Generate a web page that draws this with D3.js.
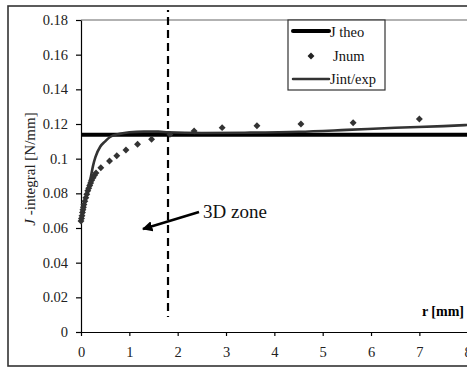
<!DOCTYPE html>
<html><head><meta charset="utf-8">
<script src="https://cdn.jsdelivr.net/npm/d3@7"></script>
<style>body{margin:0;background:#fff}svg{display:block}</style>
</head><body>
<script>
const xTicks = [0,1,2,3,4,5,6,7,8];
const yTicks = [0,0.02,0.04,0.06,0.08,0.1,0.12,0.14,0.16,0.18];
const jTheo = 0.1138;
const jnumX = [0,0.01,0.02,0.03,0.04,0.05,0.06,0.08,0.10,0.12,0.14,0.16,0.18,0.20,0.22,0.25,0.28,0.31,0.41,0.59,0.74,0.93,1.17,1.46,1.84,2.34,2.92,3.64,4.55,5.63,7.0];
const jnumY = [0.0640,0.0655,0.0670,0.0690,0.0705,0.0720,0.0735,0.0755,0.0775,0.0795,0.0815,0.0830,0.0845,0.0860,0.0875,0.0890,0.0905,0.0918,0.0948,0.0987,0.1017,0.1050,0.1083,0.1112,0.1140,0.1160,0.1179,0.1190,0.1200,0.1207,0.1229];
const jintX = [0.03,0.06,0.1,0.15,0.2,0.25,0.3,0.4,0.5,0.6,0.8,1.0,1.3,1.6,1.8,2.5,3.5,4.5,5.5,6.5,7.5,8.0];
const jintY = [0.066,0.071,0.077,0.083,0.089,0.096,0.101,0.107,0.110,0.1125,0.1143,0.1152,0.1156,0.1156,0.1152,0.1148,0.1150,0.1155,0.1166,0.1178,0.1188,0.1194];
const zoneX = 1.8;
const legendLabels = ["J theo","Jnum","Jint/exp"];

const FONT='"Liberation Serif","Times New Roman",serif';
const W=467,H=369;
const svg=d3.select("body").append("svg").attr("width",W).attr("height",H);
const x=d3.scaleLinear([0,8],[81,467.7]);
const y=d3.scaleLinear([0,0.18],[332,20]);

svg.append("rect").attr("x",8).attr("y",6).attr("width",480).attr("height",360)
  .attr("fill","none").attr("stroke","#333").attr("stroke-width",1.6);
svg.append("line").attr("x1",x(0)).attr("x2",W).attr("y1",y(0.18)).attr("y2",y(0.18))
  .attr("stroke","#999").attr("stroke-width",1.5);

const yAxis=svg.append("g").attr("transform",`translate(${x(0)},0)`)
  .call(d3.axisLeft(y).tickValues(yTicks).tickFormat(d3.format("~g")).tickSize(5).tickSizeOuter(0));
const xAxis=svg.append("g").attr("transform",`translate(0,${y(0)})`)
  .call(d3.axisBottom(x).tickValues(xTicks).tickFormat(d3.format("d")).tickSize(4).tickSizeOuter(0));
[yAxis,xAxis].forEach(a=>{a.selectAll("path,line").attr("stroke","#000").attr("stroke-width",1.2);
  a.selectAll("text").style("font-family",FONT).style("font-size","14.5px").attr("fill","#222");});
yAxis.selectAll("text").attr("x",-13);
xAxis.selectAll("text").attr("y",14.5);

svg.append("line").attr("x1",x(zoneX)).attr("x2",x(zoneX)).attr("y1",10).attr("y2",317)
  .attr("stroke","#000").attr("stroke-width",2.2).attr("stroke-dasharray","8,5").attr("stroke-dashoffset",6);

svg.append("line").attr("x1",x(0)).attr("x2",W).attr("y1",y(jTheo)).attr("y2",y(jTheo))
  .attr("stroke","#000").attr("stroke-width",4);

const diamond=d3.symbol().type(d3.symbolSquare).size(24);
svg.append("g").selectAll("path").data(jnumX.map((v,i)=>[v,jnumY[i]])).join("path")
  .attr("d",diamond).attr("transform",d=>`translate(${x(d[0])},${y(d[1])}) rotate(45)`).attr("fill","#333");

svg.append("path").datum(jintX.map((v,i)=>[v,jintY[i]]))
  .attr("d",d3.line().x(d=>x(d[0])).y(d=>y(d[1])).curve(d3.curveMonotoneX))
  .attr("fill","none").attr("stroke","#333").attr("stroke-width",2.6);

const defs=svg.append("defs");
defs.append("marker").attr("id","ah").attr("viewBox","0 0 10 10").attr("refX",9).attr("refY",5)
  .attr("markerWidth",4).attr("markerHeight",4).attr("orient","auto")
  .append("path").attr("d","M0,0L10,5L0,10z").attr("fill","#000");
svg.append("line").attr("x1",199).attr("y1",212).attr("x2",143).attr("y2",229)
  .attr("stroke","#000").attr("stroke-width",2.6).attr("marker-end","url(#ah)");
svg.append("text").attr("x",203).attr("y",218).style("font-family",FONT).style("font-size","19px").attr("fill","#111").text("3D zone");

svg.append("text").attr("x",464).attr("y",316).attr("text-anchor","end").style("font-family",FONT).style("font-size","14px")
  .attr("font-weight","bold").text("r [mm]");
const yt=svg.append("text").attr("transform","translate(35,169) rotate(-90)").attr("text-anchor","middle")
  .style("font-family",FONT).style("font-size","15px").attr("fill","#222");
yt.append("tspan").attr("font-style","italic").text("J");
yt.append("tspan").text(" -integral [N/mm]");

const lg=svg.append("g");
lg.append("rect").attr("x",288).attr("y",20).attr("width",97).attr("height",70)
  .attr("fill","#fff").attr("stroke","#333").attr("stroke-width",1.2);
lg.append("line").attr("x1",293).attr("x2",329).attr("y1",31).attr("y2",31).attr("stroke","#000").attr("stroke-width",4).attr("stroke-linecap","round");
lg.append("path").attr("d",diamond).attr("transform","translate(311,56) rotate(45)").attr("fill","#222");
lg.append("line").attr("x1",293).attr("x2",329).attr("y1",79).attr("y2",79).attr("stroke","#333").attr("stroke-width",2.5).attr("stroke-linecap","round");
const ly=[37,61,84];
legendLabels.forEach((t,i)=>lg.append("text").attr("x",i===1?333:330).attr("y",ly[i]).style("font-family",FONT).style("font-size","14.5px").attr("fill","#111").text(t));
</script>
</body></html>
